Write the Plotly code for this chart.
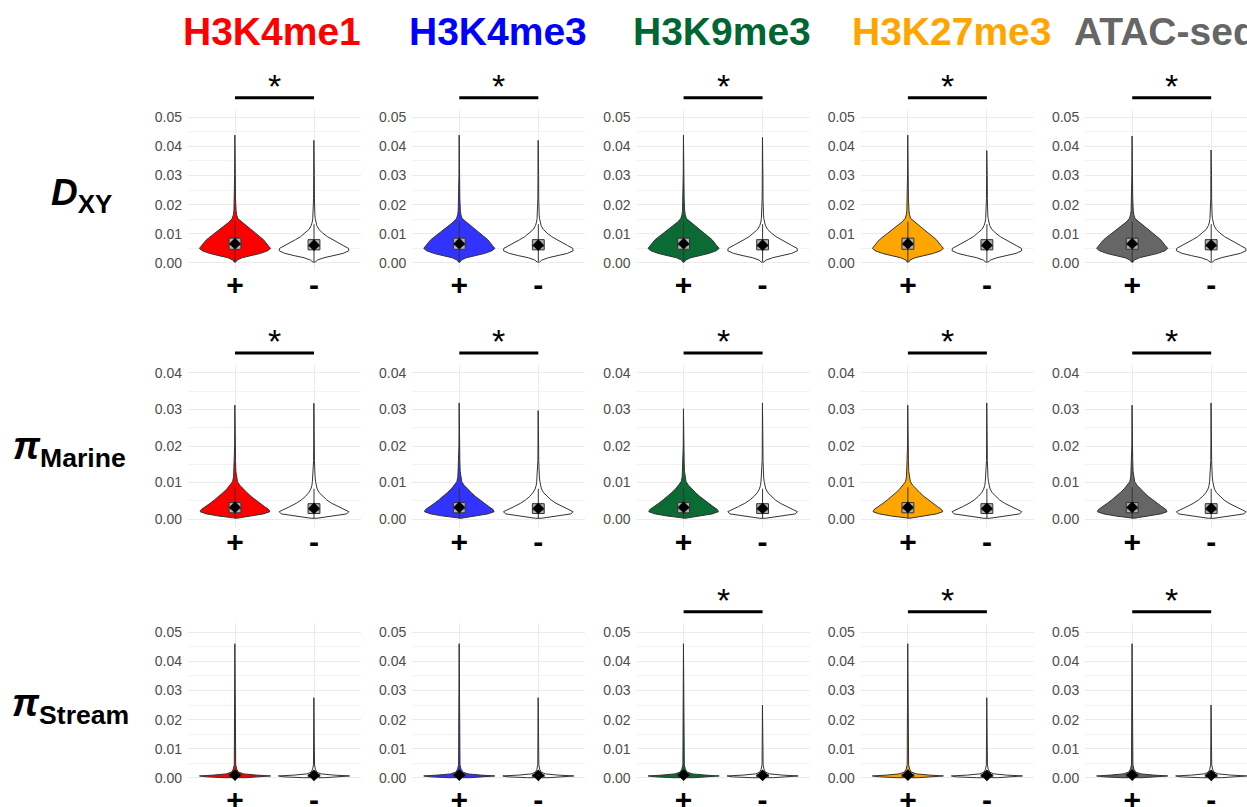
import plotly.graph_objects as go

# ---------------- data ----------------
marks = ["H3K4me1", "H3K4me3", "H3K9me3", "H3K27me3", "ATAC-seq"]
title_colors = ["#FF0000", "#0000FF", "#006633", "#FFA500", "#666666"]
fill_colors = ["#FF0000", "#3333FF", "#0B6B35", "#FFA500", "#666666"]
row_labels = ["<b><i>D</i></b><b><sub>XY</sub></b>",
              "<b><i>π</i></b><b><sub>Marine</sub></b>",
              "<b><i>π</i></b><b><sub>Stream</sub></b>"]
groups = ["+", "-"]

# density profiles (value level, relative half-width) per row
dxy_levels = [0.0003, 0.0010, 0.0018, 0.0025, 0.0033, 0.0042, 0.0050, 0.0060, 0.0070, 0.0080,
              0.0090, 0.0102, 0.0115, 0.0128, 0.0140, 0.0152, 0.0165, 0.0180, 0.0220, 0.0300]
dxy_plus = [0.02, 0.06, 0.20, 0.45, 0.72, 0.92, 1.00, 0.93, 0.87, 0.80,
            0.70, 0.58, 0.42, 0.30, 0.17, 0.08, 0.045, 0.03, 0.015, 0.01]
dxy_minus = [0.03, 0.10, 0.28, 0.55, 0.82, 0.98, 0.97, 0.82, 0.66, 0.52,
             0.38, 0.25, 0.14, 0.08, 0.05, 0.035, 0.025, 0.02, 0.012, 0.009]

marine_levels = [0.0002, 0.0008, 0.0014, 0.0020, 0.0026, 0.0034, 0.0043, 0.0052, 0.0062,
                 0.0072, 0.0082, 0.0092, 0.0102, 0.0115, 0.0130, 0.0160, 0.0200]
marine_plus = [0.05, 0.45, 0.80, 0.98, 0.95, 0.83, 0.70, 0.58, 0.45,
               0.34, 0.23, 0.14, 0.07, 0.04, 0.025, 0.015, 0.01]
marine_minus = [0.08, 0.55, 0.92, 0.98, 0.85, 0.68, 0.50, 0.36, 0.24,
                0.15, 0.09, 0.06, 0.045, 0.03, 0.02, 0.012, 0.009]

stream_levels = [0.0001, 0.0004, 0.0007, 0.0010, 0.0014, 0.0020, 0.0030, 0.0045]
stream_plus = [0.30, 0.80, 1.00, 0.60, 0.25, 0.10, 0.05, 0.02]
stream_minus = [0.30, 0.85, 1.00, 0.55, 0.20, 0.08, 0.04, 0.015]

row_levels = [dxy_levels, marine_levels, stream_levels]
row_plus = [dxy_plus, marine_plus, stream_plus]
row_minus = [dxy_minus, marine_minus, stream_minus]

# maximum values (top of tails) per row x column
tail_top_plus = [[0.0438, 0.0438, 0.0438, 0.0438, 0.0435],
                 [0.0312, 0.0318, 0.0302, 0.0312, 0.0312],
                 [0.0460, 0.0460, 0.0460, 0.0460, 0.0460]]
tail_top_minus = [[0.0420, 0.0420, 0.0430, 0.0385, 0.0387],
                  [0.0317, 0.0297, 0.0318, 0.0318, 0.0318],
                  [0.0275, 0.0275, 0.0250, 0.0275, 0.0250]]

# box statistics per row
q1_plus = [0.0047, 0.0017, 0.0005]
med_plus = [0.0062, 0.0028, 0.0008]
q3_plus = [0.0085, 0.0045, 0.0012]
lo_plus = [0.0003, 0.0001, 0.0000]
hi_plus = [0.0142, 0.0087, 0.0023]
mean_plus = [0.0066, 0.0032, 0.0010]
q1_minus = [0.0045, 0.0015, 0.0005]
med_minus = [0.0058, 0.0025, 0.0007]
q3_minus = [0.0080, 0.0042, 0.0011]
lo_minus = [0.0004, 0.0001, 0.0000]
hi_minus = [0.0133, 0.0083, 0.0020]
mean_minus = [0.0061, 0.0029, 0.0009]

significant = [[1, 1, 1, 1, 1],
               [1, 1, 1, 1, 1],
               [0, 0, 1, 1, 1]]

# ---------------- layout geometry ----------------
W, H = 1247, 807
FONT = "Liberation Sans, Arial, sans-serif"
col_left = [188 + 224.3 * c for c in range(5)]
PANEL_W = 173
PX_PER_UNIT = 79.0
row_top = [110, 365, 623]
row_bot = [270, 527, 785]
y_ranges = [[-0.0024, 0.0524], [-0.00219, 0.04219], [-0.0024, 0.0531]]
bar_y = [97.7, 353.0, 611.7]
title_x = [272, 498, 722, 951, 1165]
label_pos = [(81, 195, 37), (69, 449, 38), (70, 706, 38)]
BOX_HW = 0.075


def fx(p):
    return p / W


def fy(p):
    return 1 - p / H


fig = go.Figure()
layout_axes = {}
shapes = []
annotations = []

for r in range(3):
    for c in range(5):
        idx = r * 5 + c + 1
        xn = "x" if idx == 1 else f"x{idx}"
        yn = "y" if idx == 1 else f"y{idx}"
        left = col_left[c]
        right = min(left + PANEL_W, W)
        x0 = 1 - 47 / PX_PER_UNIT
        xr = [x0, x0 + (right - left) / PX_PER_UNIT]
        layout_axes["xaxis" if idx == 1 else f"xaxis{idx}"] = dict(
            domain=[fx(left), fx(right)], range=xr, anchor=yn, automargin=False,
            tickmode="array", tickvals=[1, 2], ticktext=groups,
            tickfont=dict(size=30, color="black", family=FONT, weight="bold"),
            showgrid=True, gridcolor="#EBEBEB", gridwidth=1,
            zeroline=False, showline=False, ticks="", ticklabelstandoff=-6,
            fixedrange=True)
        layout_axes["yaxis" if idx == 1 else f"yaxis{idx}"] = dict(
            domain=[fy(row_bot[r]), fy(row_top[r])], range=y_ranges[r], anchor=xn,
            automargin=False,
            tick0=0, dtick=0.01, tickformat=".2f",
            tickfont=dict(size=14, color="#4D4D4D", family=FONT),
            showgrid=True, gridcolor="#EBEBEB", gridwidth=1,
            minor=dict(tick0=0, dtick=0.005, showgrid=True, gridcolor="#F3F3F3", gridwidth=1),
            zeroline=False, showline=False, ticks="", ticklabelstandoff=5,
            fixedrange=True)

        for g in range(2):
            cx = g + 1
            widths = row_plus[r] if g == 0 else row_minus[r]
            top = tail_top_plus[r][c] if g == 0 else tail_top_minus[r][c]
            lv = list(row_levels[r]) + [top]
            wv = list(widths) + [0.004]
            xs = [cx + 0.45 * w for w in wv] + [cx - 0.45 * w for w in reversed(wv)]
            ys = lv + list(reversed(lv))
            xs.append(xs[0])
            ys.append(ys[0])
            fig.add_trace(go.Scatter(
                x=xs, y=ys, mode="lines", fill="toself",
                fillcolor=fill_colors[c] if g == 0 else "white",
                line=dict(color="#333333", width=1),
                xaxis=xn, yaxis=yn, hoverinfo="skip", showlegend=False))

            q1 = q1_plus[r] if g == 0 else q1_minus[r]
            q3 = q3_plus[r] if g == 0 else q3_minus[r]
            med = med_plus[r] if g == 0 else med_minus[r]
            lo = lo_plus[r] if g == 0 else lo_minus[r]
            hi = hi_plus[r] if g == 0 else hi_minus[r]
            mn = mean_plus[r] if g == 0 else mean_minus[r]
            # whiskers
            fig.add_trace(go.Scatter(
                x=[cx, cx, None, cx, cx], y=[lo, q1, None, q3, hi], mode="lines",
                line=dict(color="#333333", width=1),
                xaxis=xn, yaxis=yn, hoverinfo="skip", showlegend=False))
            # box
            fig.add_trace(go.Scatter(
                x=[cx - BOX_HW, cx + BOX_HW, cx + BOX_HW, cx - BOX_HW, cx - BOX_HW],
                y=[q1, q1, q3, q3, q1], mode="lines", fill="toself",
                fillcolor="#B0B0B0", line=dict(color="#333333", width=1),
                xaxis=xn, yaxis=yn, hoverinfo="skip", showlegend=False))
            # median
            fig.add_trace(go.Scatter(
                x=[cx - BOX_HW, cx + BOX_HW], y=[med, med], mode="lines",
                line=dict(color="#333333", width=1),
                xaxis=xn, yaxis=yn, hoverinfo="skip", showlegend=False))
            # mean
            fig.add_trace(go.Scatter(
                x=[cx], y=[mn], mode="markers",
                marker=dict(symbol="diamond", size=9, color="black"),
                xaxis=xn, yaxis=yn, hoverinfo="skip", showlegend=False))

        if significant[r][c]:
            shapes.append(dict(type="line", xref=xn, yref="paper",
                               x0=1, x1=2, y0=fy(bar_y[r]), y1=fy(bar_y[r]),
                               line=dict(color="black", width=3)))
            annotations.append(dict(xref=xn, yref="paper", x=1.5, y=fy(bar_y[r] + 9),
                                    text="*", showarrow=False, yanchor="bottom",
                                    font=dict(size=34, color="black", family=FONT)))

for c in range(5):
    annotations.append(dict(xref="paper", yref="paper", x=fx(title_x[c]), y=fy(31),
                            text=f"<b>{marks[c]}</b>", showarrow=False,
                            xanchor="center", yanchor="middle",
                            font=dict(size=39, color=title_colors[c], family=FONT)))

for r in range(3):
    lx, ly, ls = label_pos[r]
    annotations.append(dict(xref="paper", yref="paper", x=fx(lx), y=fy(ly),
                            text=row_labels[r], showarrow=False,
                            xanchor="center", yanchor="middle",
                            font=dict(size=ls, color="black", family=FONT)))

fig.update_layout(
    width=W, height=H, autosize=False, margin=dict(l=0, r=0, t=0, b=0, autoexpand=False),
    paper_bgcolor="white", plot_bgcolor="white",
    showlegend=False,
    shapes=shapes, annotations=annotations,
    **layout_axes)

fig.write_html("out.html",
               config={"displayModeBar": False, "responsive": False},
               post_script="document.body.style.margin='0';")
